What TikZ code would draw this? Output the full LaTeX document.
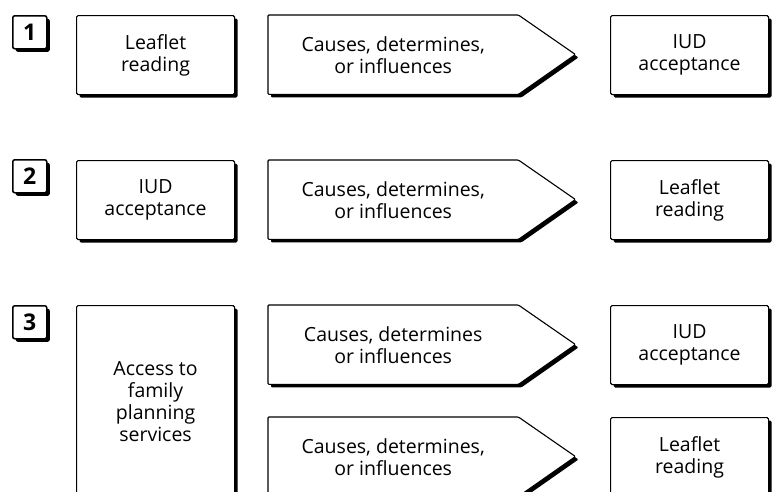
\documentclass[tikz,border=0pt]{standalone}
\usepackage{fontspec}
\setmainfont{Open Sans}
\usetikzlibrary{shadows,backgrounds}
\begin{document}
\begin{tikzpicture}[
    x=1pt, y=-1pt,
    every node/.style={font=\fontsize{19.5}{22}\selectfont, align=center},
    shadowed/.style={drop shadow={shadow xshift=3pt, shadow yshift=-3pt, opacity=1, fill=black}},
    numbox/.style={draw, line width=1.5pt, fill=white, rounded corners=2pt, shadowed,
        minimum width=34pt, minimum height=33pt, inner sep=0pt, anchor=north west,
        font=\fontsize{23}{23}\selectfont\bfseries},
    block/.style={draw, line width=1.1pt, fill=white, rounded corners=1.5pt, shadowed,
        minimum width=158pt, minimum height=79pt, inner sep=0pt, anchor=north west},
    cause/.style={minimum width=250pt, minimum height=79pt, inner sep=0pt, anchor=north west},
    pointer/.style={draw, line width=1.1pt, fill=white, rounded corners=1pt, shadowed}
]
\useasboundingbox (0,0) rectangle (775,491);
\clip (0,0) rectangle (775,491);

% Numbers
\node [numbox] (num1) at (12,15) {1};
\node [numbox] (num2) at (12,159) {2};
\node [numbox] (num3) at (12,305) {3};

% Row 1
\node [block] (leaf1) at (76,15) {Leaflet\\reading};
\node [cause] (cause1) at (268,15) {Causes, determines,\\or influences};
\node [block] (iud1) at (610,15) {IUD\\acceptance};

% Row 2
\node [block] (iud2) at (76,160) {IUD\\acceptance};
\node [cause] (cause2) at (268,160) {Causes, determines,\\or influences};
\node [block] (leaf2) at (610,160) {Leaflet\\reading};

% Row 3
\node [block, minimum height=192pt] (access) at (76,305) {Access to\\family\\planning\\services};
\node [cause] (cause3) at (268,305) {Causes, determines\\or influences};
\node [block] (iud3) at (610,305) {IUD\\acceptance};
\node [cause] (cause4) at (268,417) {Causes, determines,\\or influences};
\node [block] (leaf3) at (610,417) {Leaflet\\reading};

% Pointers
\begin{scope}[on background layer]
\foreach \c in {cause1,cause2,cause3,cause4}
    \draw [pointer] (\c.north west) -- (\c.north east) -- ++(57,39.5)
        -- (\c.south east) -- (\c.south west) -- cycle;
\end{scope}
\end{tikzpicture}
\end{document}
